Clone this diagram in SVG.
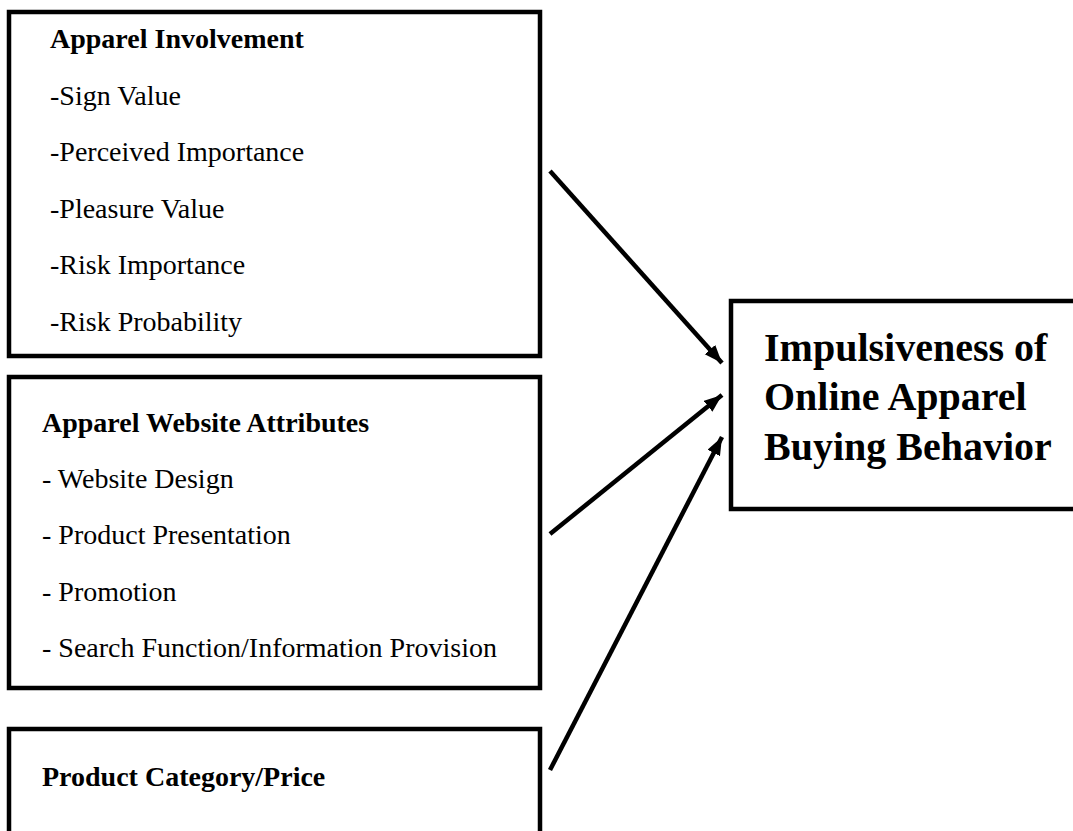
<svg xmlns="http://www.w3.org/2000/svg" width="1073" height="831" viewBox="0 0 1073 831">
<style>
.box{fill:#fff;stroke:#000;stroke-width:4.5}
.t{font-family:"Liberation Serif","Times New Roman",serif;font-size:28px;fill:#000}
.b{font-weight:bold}
.big{font-family:"Liberation Serif","Times New Roman",serif;font-size:40px;font-weight:bold;fill:#000}
.conn{stroke:#000;stroke-width:4.5;fill:none}
</style>
<defs>
<marker id="ah" markerUnits="userSpaceOnUse" markerWidth="20" markerHeight="16" refX="18" refY="7" orient="auto">
<path d="M0,0 L18,7 L0,14 Z" fill="#000"/>
</marker>
</defs>
<rect width="1073" height="831" fill="#fff"/>
<g id="node-involvement">
<rect class="box" x="9" y="12" width="531" height="344"/>
<text class="t b" x="50" y="48">Apparel Involvement</text>
<text class="t" x="50" y="105">-Sign Value</text>
<text class="t" x="50" y="161">-Perceived Importance</text>
<text class="t" x="50" y="218">-Pleasure Value</text>
<text class="t" x="50" y="274">-Risk Importance</text>
<text class="t" x="50" y="331">-Risk Probability</text>
</g>
<g id="node-website">
<rect class="box" x="9" y="377" width="531" height="311"/>
<text class="t b" x="42" y="432">Apparel Website Attributes</text>
<text class="t" x="42" y="488">- Website Design</text>
<text class="t" x="42" y="544">- Product Presentation</text>
<text class="t" x="42" y="601">- Promotion</text>
<text class="t" x="42" y="657">- Search Function/Information Provision</text>
</g>
<g id="node-product">
<rect class="box" x="9" y="729" width="531" height="130"/>
<text class="t b" x="42" y="786">Product Category/Price</text>
</g>
<g id="node-impulsiveness">
<rect class="box" x="731" y="301" width="360" height="208"/>
<text class="big" x="764" y="361">Impulsiveness of</text>
<text class="big" x="764" y="410">Online Apparel</text>
<text class="big" x="764" y="460">Buying Behavior</text>
</g>
<g id="connectors">
<line class="conn" x1="550" y1="171" x2="722" y2="363" marker-end="url(#ah)"/>
<line class="conn" x1="550" y1="534" x2="722" y2="395" marker-end="url(#ah)"/>
<line class="conn" x1="550" y1="770" x2="722" y2="437" marker-end="url(#ah)"/>
</g>
</svg>
